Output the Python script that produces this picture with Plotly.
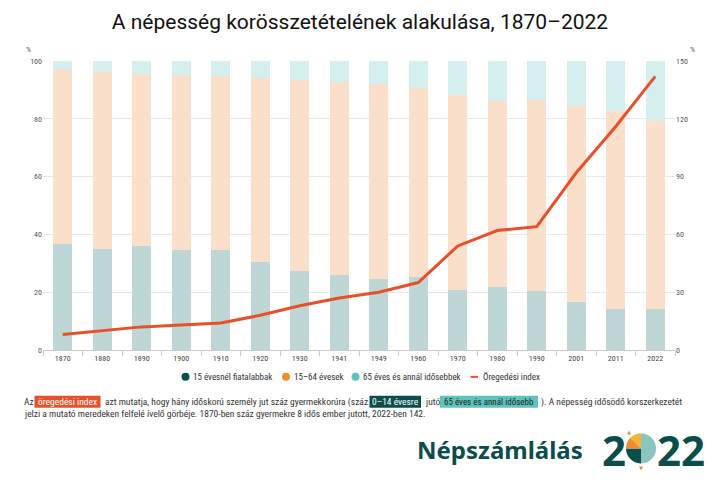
import numpy as np
import plotly.graph_objects as go

years = ['1870', '1880', '1890', '1900', '1910', '1920', '1930', '1941',
         '1949', '1960', '1970', '1980', '1990', '2001', '2011', '2022']
young = [36.6, 34.9, 36.1, 34.6, 34.6, 30.4, 27.3, 25.9, 24.7, 25.2, 20.9, 21.7, 20.3, 16.5, 14.3, 14.3]
working = [60.3, 61.3, 59.4, 60.7, 60.2, 63.7, 66.0, 66.7, 67.4, 65.5, 67.3, 64.4, 66.2, 68.0, 68.4, 64.8]
old = [3.1, 3.8, 4.5, 4.7, 5.2, 5.9, 6.7, 7.4, 7.9, 9.3, 11.8, 13.9, 13.5, 15.5, 17.3, 20.9]
aging_index = [8, 10, 12, 13, 14, 18, 23, 27, 30, 35, 54, 62, 64, 92, 116, 142]

left_ticks = [0, 20, 40, 60, 80, 100]
right_ticks = [0, 30, 60, 90, 120, 150]

names = ['15 évesnél fiatalabbak', '15–64 évesek', '65 éves és annál idősebbek', 'Öregedési index']

DARK = '#0b4f4b'
ORANGE = '#f28b30'
TEAL = '#5cc4bd'
RED = '#e8502a'
bar_cols = ['#bfd6d6', '#fadfcb', '#d5efee']

FONT = "'Liberation Sans Narrow', 'Roboto Condensed', 'Open Sans', sans-serif"

# plot area in pixels
L, R, T, B = 43, 675, 61, 349.7
W, H = 720, 480


def px(x):
    return (x - L) / (R - L)


def py(y):
    return (B - y) / (B - T)


fig = go.Figure()
for vals, col, nm in zip([young, working, old], bar_cols, names[:3]):
    fig.add_trace(go.Bar(x=years, y=vals, marker=dict(color=col, line=dict(width=0)),
                         name=nm, showlegend=False, yaxis='y'))

fig.add_trace(go.Scatter(x=years, y=aging_index, mode='lines', yaxis='y2',
                         line=dict(color=RED, width=3), showlegend=False, name=names[3]))

anns = []
shapes = []

# % labels
for xx in (28, 692):
    anns.append(dict(x=px(xx), y=py(50), xref='paper', yref='paper', text='%', showarrow=False,
                     font=dict(size=8, color='#555', family=FONT), xanchor='center', yanchor='middle'))

# manual legend
leg_y = 376.5
leg_font = dict(size=9, color='#333', family=FONT)
for col, nm, dx, tx in zip([DARK, ORANGE, TEAL], names[:3], [185.5, 286, 355.5], [191, 291.5, 361]):
    shapes.append(dict(type='circle', xref='paper', yref='paper',
                       x0=px(dx - 4), x1=px(dx + 4), y0=py(leg_y + 4), y1=py(leg_y - 4),
                       fillcolor=col, line=dict(width=0)))
    anns.append(dict(x=px(tx), y=py(leg_y), xref='paper', yref='paper', text=nm, showarrow=False,
                     xanchor='left', yanchor='middle', font=leg_font))
shapes.append(dict(type='line', xref='paper', yref='paper', x0=px(470.5), x1=px(478),
                   y0=py(leg_y), y1=py(leg_y), line=dict(color=RED, width=2)))
anns.append(dict(x=px(481), y=py(leg_y), xref='paper', yref='paper', text=names[3], showarrow=False,
                 xanchor='left', yanchor='middle', font=leg_font))

# explanatory text with highlighted phrases
body_font = dict(size=9.5, color='#333', family=FONT)
y1, y2 = 401.5, 413
plain = [('Az', 22), ('azt mutatja, hogy hány időskorú személy jut száz gyermekkorúra (száz', 103),
         ('jutó', 422.5), ('). A népesség idősödő korszerkezetét', 538.5)]
for txt, x0 in plain:
    anns.append(dict(x=px(x0), y=py(y1), xref='paper', yref='paper', text=txt, showarrow=False,
                     xanchor='left', yanchor='middle', font=body_font))
boxes = [('öregedési index', 34.5, 100.5, RED, '#fff', 9.5),
         ('0–14 évesre', 369.5, 421, DARK, '#fff', 9.5),
         ('65 éves és annál idősebb', 440, 538, TEAL, '#222', 9)]
for txt, xa, xb, bg, fc, fs in boxes:
    shapes.append(dict(type='rect', xref='paper', yref='paper', x0=px(xa), x1=px(xb),
                       y0=py(407.5), y1=py(395.5), fillcolor=bg, line=dict(width=0), layer='below'))
    anns.append(dict(x=px((xa + xb) / 2), y=py(y1), xref='paper', yref='paper', text=txt,
                     showarrow=False, xanchor='center', yanchor='middle',
                     font=dict(body_font, color=fc, size=fs)))
anns.append(dict(x=px(22), y=py(y2), xref='paper', yref='paper',
                 text='jelzi a mutató meredeken felfelé ívelő görbéje. 1870-ben száz gyermekre 8 idős ember jutott, 2022-ben 142.',
                 showarrow=False, xanchor='left', yanchor='middle', font=body_font))

# logo texts
LOGO_FONT = "'Noto Sans', 'Open Sans', sans-serif"
anns.append(dict(x=px(415), y=py(449), xref='paper', yref='paper', text='<b>Népszámlálás</b>',
                 showarrow=False, xanchor='left', yanchor='middle',
                 font=dict(size=24, color='#0b4d4a', family=LOGO_FONT)))
anns.append(dict(x=px(600), y=py(449), xref='paper', yref='paper', text='<b>2</b>',
                 showarrow=False, xanchor='left', yanchor='middle',
                 font=dict(size=42, color='#0b4d4a', family=LOGO_FONT)))
anns.append(dict(x=px(655), y=py(449), xref='paper', yref='paper', text='<b>22</b>',
                 showarrow=False, xanchor='left', yanchor='middle',
                 font=dict(size=42, color='#0b4d4a', family=LOGO_FONT)))

# logo pie drawn as shapes (pixel -> paper)
cx, cy, r = 641, 448, 15


def wedge(a0, a1, n=30):
    ang = np.linspace(np.radians(a0), np.radians(a1), n)
    pts = [(cx, cy)] + [(cx + r * np.cos(a), cy - r * np.sin(a)) for a in ang]
    return 'M ' + ' L '.join(f'{px(x):.5f},{py(y):.5f}' for x, y in pts) + ' Z'


def tri(pts):
    return 'M ' + ' L '.join(f'{px(x):.5f},{py(y):.5f}' for x, y in pts) + ' Z'


for a0, a1, col in [(-90, 90, '#8cc4bf'), (180, 270, DARK), (135, 180, ORANGE), (90, 135, '#f3b431')]:
    shapes.append(dict(type='path', xref='paper', yref='paper', path=wedge(a0, a1),
                       fillcolor=col, line=dict(width=0)))
shapes.append(dict(type='path', xref='paper', yref='paper',
                   path=tri([(627, 434), (631, 434), (629, 430)]), fillcolor=ORANGE, line=dict(width=0)))
shapes.append(dict(type='path', xref='paper', yref='paper',
                   path=tri([(639, 466), (643, 466), (641, 470)]), fillcolor=ORANGE, line=dict(width=0)))

fig.update_layout(
    width=W, height=H,
    margin=dict(l=L, r=W - R, t=T, b=H - B),
    paper_bgcolor='white', plot_bgcolor='white',
    barmode='stack', bargap=0.52,
    showlegend=False,
    title=dict(text='A népesség korösszetételének alakulása, 1870–2022', x=0.5, xanchor='center',
               y=1 - 22 / H, yanchor='middle', font=dict(size=21, color='#111', family="Roboto, sans-serif")),
    xaxis=dict(type='category', tickfont=dict(size=8, color='#444', family=FONT),
               showline=True, linecolor='#cccccc', linewidth=1, ticks='outside', tickson='boundaries',
               ticklen=5, tickcolor='#cccccc', showgrid=False),
    yaxis=dict(range=[0, 100], tickvals=left_ticks, tickfont=dict(size=8, color='#555', family=FONT),
               gridcolor='#e8e8e8', gridwidth=1, zeroline=False, showline=False, ticks=''),
    yaxis2=dict(range=[0, 150], tickvals=right_ticks, overlaying='y', side='right',
                tickfont=dict(size=8, color='#555', family=FONT), showgrid=False, zeroline=False,
                showline=False, ticks=''),
    annotations=anns,
    shapes=shapes,
)

fig.write_html('out.html')
